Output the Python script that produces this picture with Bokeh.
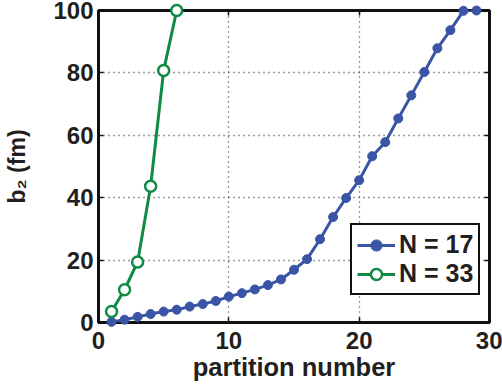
import numpy as np
from bokeh.plotting import figure
from bokeh.models import Range1d, LinearAxis, Legend, LegendItem, FixedTicker
from bokeh.embed import file_html
from bokeh.resources import INLINE

# data
x17 = list(range(1, 30))
b17 = [0.2, 0.9, 1.8, 2.7, 3.5, 4.1, 5.1, 5.9, 6.9, 8.3,
       9.4, 10.6, 12.0, 13.8, 16.9, 20.3, 26.7, 33.8, 39.9, 45.6,
       53.3, 57.8, 65.4, 72.8, 80.3, 87.9, 93.7, 99.9, 100.0]
x33 = [1, 2, 3, 4, 5, 6]
b33 = [3.5, 10.5, 19.4, 43.7, 80.8, 100.0]
labels = ["N = 17", "N = 33"]
xticks = [0, 10, 20, 30]
yticks = [0, 20, 40, 60, 80, 100]
xlabel = "partition number"
ylabel = "b\u2082 (fm)"

BLUE = "#3a55a5"
GREEN = "#0e8a44"
TXT = "#231f20"
FONT = "Liberation Sans"

p = figure(width=502, height=386, x_range=Range1d(0, 30), y_range=Range1d(0, 100),
           output_backend="svg", toolbar_location=None,
           min_border_left=98, min_border_right=13, min_border_top=10, min_border_bottom=64)
p.background_fill_color = "white"
p.border_fill_color = "white"
p.outline_line_color = "#111111"
p.outline_line_width = 3

for ax in [p.xaxis[0], p.yaxis[0]]:
    ax.axis_line_color = None
    ax.major_tick_in = 5
    ax.major_tick_out = 0
    ax.major_tick_line_color = "#111111"
    ax.major_tick_line_width = 1.5
    ax.minor_tick_line_color = None
    ax.major_label_text_font = FONT
    ax.major_label_text_font_style = "bold"
    ax.major_label_text_font_size = "24px"
    ax.major_label_text_color = TXT
    ax.axis_label_text_font = FONT
    ax.axis_label_text_font_style = "bold"
    ax.axis_label_text_color = TXT

p.xaxis[0].ticker = FixedTicker(ticks=xticks)
p.yaxis[0].ticker = FixedTicker(ticks=yticks)
p.xaxis[0].major_label_standoff = 9
p.yaxis[0].major_label_standoff = 5
p.xaxis[0].axis_label = xlabel
p.xaxis[0].axis_label_text_font_size = "25.5px"
p.xaxis[0].axis_label_standoff = 1
p.yaxis[0].axis_label = ylabel
p.yaxis[0].axis_label_text_font_size = "23px"
p.yaxis[0].axis_label_standoff = 20

# mirrored tick axes
top = LinearAxis(ticker=FixedTicker(ticks=xticks))
right = LinearAxis(ticker=FixedTicker(ticks=yticks))
for ax in [top, right]:
    ax.axis_line_color = None
    ax.major_tick_in = 5
    ax.major_tick_out = 0
    ax.major_tick_line_color = "#111111"
    ax.major_tick_line_width = 1.5
    ax.minor_tick_line_color = None
    ax.major_label_text_font_size = "0px"
    ax.major_label_standoff = 0
p.add_layout(top, "above")
p.add_layout(right, "right")

p.xgrid.ticker = FixedTicker(ticks=xticks)
p.ygrid.ticker = FixedTicker(ticks=yticks)
for g in [p.xgrid[0], p.ygrid[0]]:
    g.grid_line_color = "#333333"
    g.grid_line_dash = "1 4"
    g.grid_line_width = 1.3

l17 = p.line(x17, b17, line_color=BLUE, line_width=3)
s17 = p.scatter(x17, b17, size=9, marker="circle", fill_color=BLUE, line_color=BLUE, level="overlay")
l33 = p.line(x33, b33, line_color=GREEN, line_width=3)
s33 = p.scatter(x33, b33, size=11, marker="circle", fill_color="white", line_color=GREEN,
                line_width=2.5, level="overlay")

legend = Legend(items=[LegendItem(label=labels[0], renderers=[l17, s17]),
                       LegendItem(label=labels[1], renderers=[l33, s33])],
                location=(252, 27))
legend.label_text_font = FONT
legend.label_text_font_style = "bold"
legend.label_text_font_size = "25px"
legend.label_text_color = TXT
legend.border_line_color = "#111111"
legend.border_line_width = 2.5
legend.border_line_alpha = 1
legend.glyph_width = 38
legend.glyph_height = 28
legend.label_height = 28
legend.label_standoff = 4
legend.padding = 5
legend.spacing = 0
legend.margin = 0
legend.background_fill_color = "white"
legend.background_fill_alpha = 1
p.add_layout(legend, "center")

open("out.html", "w").write(file_html(p, INLINE))
